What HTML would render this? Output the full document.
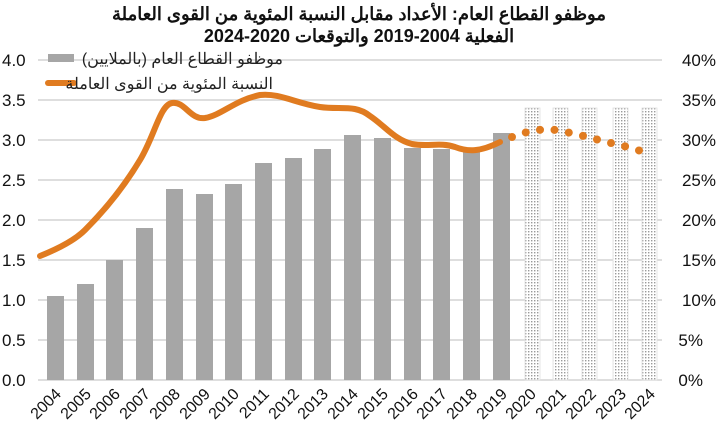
<!DOCTYPE html>
<html><head><meta charset="utf-8"><style>body{margin:0;background:#fff}svg{display:block}</style></head><body>
<svg width="718" height="436" xmlns="http://www.w3.org/2000/svg" font-family="'Liberation Sans','Noto Sans CJK SC',sans-serif">
<defs>
<pattern id="d" width="3" height="3" patternUnits="userSpaceOnUse"><rect width="3" height="3" fill="#fff"/><rect width="1.4" height="1.4" fill="#9a9a9a"/></pattern>
</defs>
<text x="359" y="20" text-anchor="middle" font-size="18" font-weight="bold" fill="#111">موظفو القطاع العام: الأعداد مقابل النسبة المئوية من القوى العاملة</text>
<text x="359" y="42" text-anchor="middle" font-size="18" font-weight="bold" fill="#111" direction="rtl">الفعلية 2004-2019 والتوقعات 2020-2024</text>
<g stroke="#d4d4d4" stroke-width="1.5">
<line x1="38" x2="662" y1="60" y2="60"/><line x1="38" x2="662" y1="100" y2="100"/><line x1="38" x2="662" y1="140" y2="140"/><line x1="38" x2="662" y1="180" y2="180"/><line x1="38" x2="662" y1="220" y2="220"/><line x1="38" x2="662" y1="260" y2="260"/><line x1="38" x2="662" y1="300" y2="300"/><line x1="38" x2="662" y1="340" y2="340"/><line x1="38" x2="662" y1="380" y2="380"/>
</g>
<g font-size="17" fill="#111">
<text x="2" y="66">4.0</text><text x="2" y="106">3.5</text><text x="2" y="146">3.0</text><text x="2" y="186">2.5</text><text x="2" y="226">2.0</text><text x="2" y="266">1.5</text><text x="2" y="306">1.0</text><text x="2" y="346">0.5</text><text x="2" y="386">0.0</text>
<text x="716" y="66" text-anchor="end">40%</text><text x="716" y="106" text-anchor="end">35%</text><text x="716" y="146" text-anchor="end">30%</text><text x="716" y="186" text-anchor="end">25%</text><text x="716" y="226" text-anchor="end">20%</text><text x="716" y="266" text-anchor="end">15%</text><text x="716" y="306" text-anchor="end">10%</text><text x="703" y="346" text-anchor="end">5%</text><text x="703" y="386" text-anchor="end">0%</text>
</g>
<g fill="#a6a6a6">
<rect x="47" y="296" width="17" height="84"/>
<rect x="77" y="284" width="17" height="96"/>
<rect x="106" y="260" width="17" height="120"/>
<rect x="136" y="228" width="17" height="152"/>
<rect x="166" y="189" width="17" height="191"/>
<rect x="196" y="194" width="17" height="186"/>
<rect x="225" y="184" width="17" height="196"/>
<rect x="255" y="163" width="17" height="217"/>
<rect x="285" y="158" width="17" height="222"/>
<rect x="314" y="149" width="17" height="231"/>
<rect x="344" y="135" width="17" height="245"/>
<rect x="374" y="138" width="17" height="242"/>
<rect x="404" y="148" width="17" height="232"/>
<rect x="433" y="149" width="17" height="231"/>
<rect x="463" y="148" width="17" height="232"/>
<rect x="493" y="133" width="17" height="247"/>
</g>
<g fill="url(#d)" stroke="#e0e0e0" stroke-width="0.8">
<rect x="525" y="108" width="15" height="272"/>
<rect x="553" y="108" width="15" height="272"/>
<rect x="582" y="108" width="15" height="272"/>
<rect x="613" y="108" width="15" height="272"/>
<rect x="642" y="108" width="15" height="272"/>
</g>
<path d="M40,256 C60,248 75,240 85,230 C105,210 125,185 140,160 C155,135 160,105 172,103 C185,101 190,120 205,118 C222,115 235,100 260,95 C280,93 295,103 320,107 C340,110 355,104 370,116 C385,126 395,140 412,144 C428,147 440,142 455,147 C468,152 480,152 500,142" fill="none" stroke="#e07b20" stroke-width="6" stroke-linecap="round"/>
<path d="M512,137 C525,132 540,128 555,130 C580,134 600,141 620,145 C635,149 645,152 650,155" fill="none" stroke="#e07b20" stroke-width="8" stroke-linecap="round" stroke-dasharray="0 14.5"/>
<rect x="48" y="54" width="26" height="8" fill="#a6a6a6"/>
<text x="283" y="64" text-anchor="end" font-size="16" fill="#222">موظفو القطاع العام (بالملايين)</text>
<line x1="48" y1="83" x2="74" y2="83" stroke="#e07b20" stroke-width="6" stroke-linecap="round"/>
<text x="273" y="89" text-anchor="end" font-size="16" fill="#222">النسبة المئوية من القوى العاملة</text>
<g font-size="16" fill="#111">
<text transform="translate(62,395) rotate(-45)" text-anchor="end">2004</text>
<text transform="translate(92,395) rotate(-45)" text-anchor="end">2005</text>
<text transform="translate(121,395) rotate(-45)" text-anchor="end">2006</text>
<text transform="translate(151,395) rotate(-45)" text-anchor="end">2007</text>
<text transform="translate(181,395) rotate(-45)" text-anchor="end">2008</text>
<text transform="translate(211,395) rotate(-45)" text-anchor="end">2009</text>
<text transform="translate(240,395) rotate(-45)" text-anchor="end">2010</text>
<text transform="translate(270,395) rotate(-45)" text-anchor="end">2011</text>
<text transform="translate(300,395) rotate(-45)" text-anchor="end">2012</text>
<text transform="translate(329,395) rotate(-45)" text-anchor="end">2013</text>
<text transform="translate(359,395) rotate(-45)" text-anchor="end">2014</text>
<text transform="translate(389,395) rotate(-45)" text-anchor="end">2015</text>
<text transform="translate(419,395) rotate(-45)" text-anchor="end">2016</text>
<text transform="translate(448,395) rotate(-45)" text-anchor="end">2017</text>
<text transform="translate(478,395) rotate(-45)" text-anchor="end">2018</text>
<text transform="translate(508,395) rotate(-45)" text-anchor="end">2019</text>
<text transform="translate(537,395) rotate(-45)" text-anchor="end">2020</text>
<text transform="translate(567,395) rotate(-45)" text-anchor="end">2021</text>
<text transform="translate(597,395) rotate(-45)" text-anchor="end">2022</text>
<text transform="translate(627,395) rotate(-45)" text-anchor="end">2023</text>
<text transform="translate(656,395) rotate(-45)" text-anchor="end">2024</text>
</g>
</svg>
</body></html>
